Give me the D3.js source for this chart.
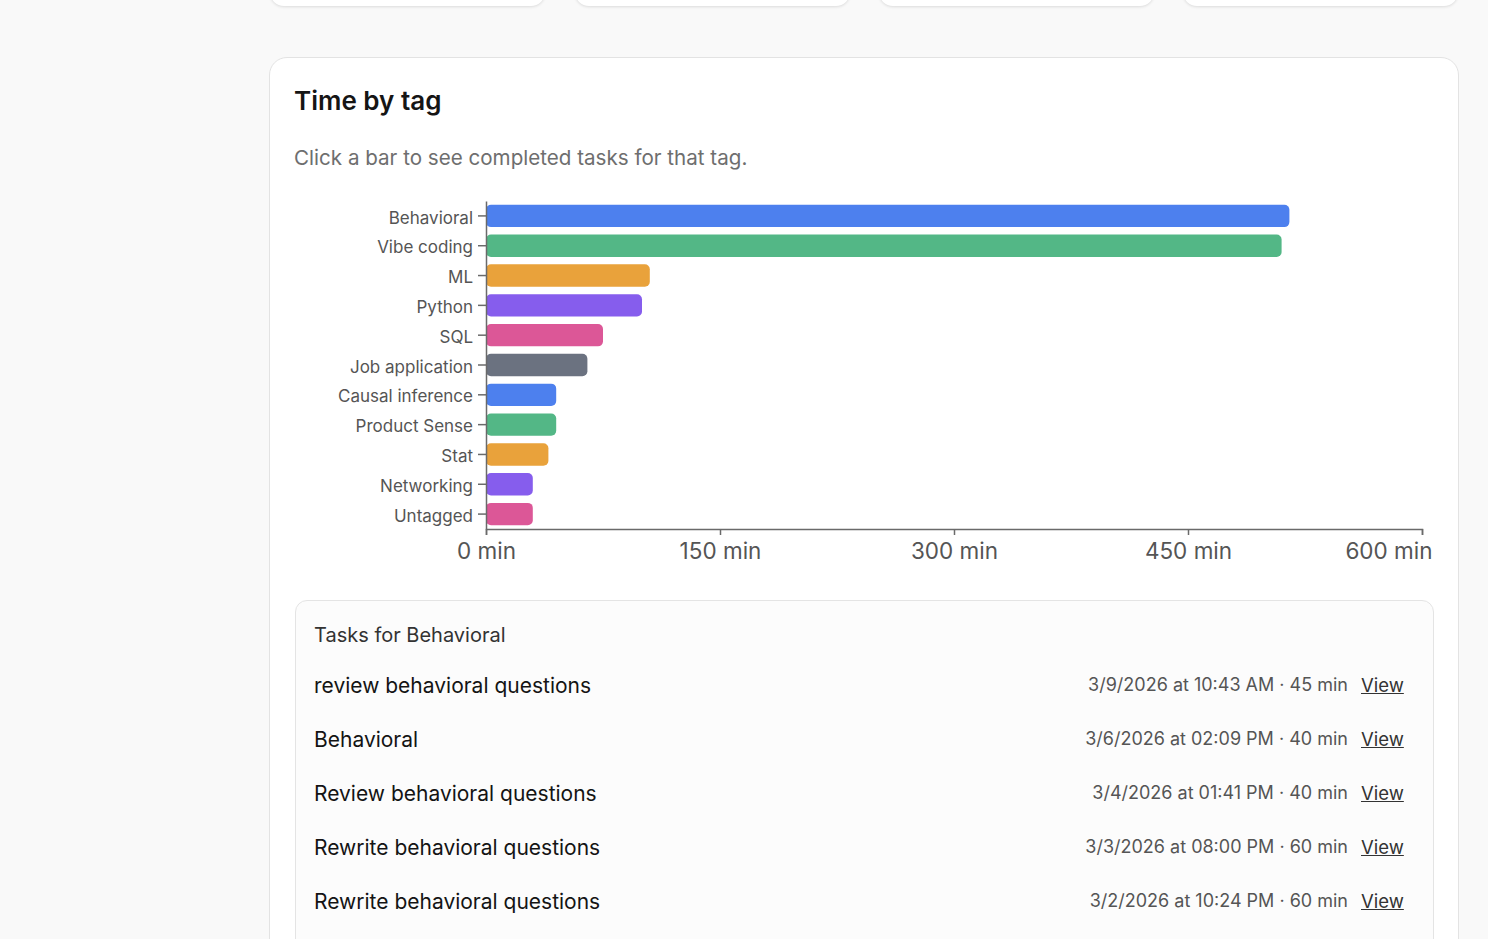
<!DOCTYPE html>
<html>
<head>
<meta charset="utf-8">
<script src="https://cdn.jsdelivr.net/npm/d3@7"></script>
<style>
  body { margin: 0; background: #f9f9f9; font-family: Inter, "Noto Sans", sans-serif; width: 1488px; height: 939px; overflow: hidden; position: relative; }
  .topcard { position: absolute; top: -40px; height: 46px; width: 275px; background: #fff; border-radius: 14px; box-shadow: 0 1px 3px rgba(0,0,0,0.12); }
  .card { position: absolute; left: 269px; top: 57px; width: 1190px; height: 920px; background: #fff; border: 1px solid #e3e3e3; border-radius: 18px; box-sizing: border-box; }
  .title { position: absolute; left: 294px; top: 85px; font-size: 26px; font-weight: 600; color: #151515; }
  .sub { position: absolute; left: 294px; top: 145px; font-size: 20.6px; color: #6e6e6e; }
  .panel { position: absolute; left: 295px; top: 600px; width: 1139px; height: 400px; background: #fcfcfc; border: 1px solid #e4e4e4; border-radius: 12px; box-sizing: border-box; }
  .panel-title { position: absolute; left: 314px; top: 623px; font-size: 20px; color: #333; }
  .row-name { position: absolute; left: 314px; font-size: 21px; color: #141414; }
  .row-meta { position: absolute; right: 140px; font-size: 18px; color: #555; }
  .row-view { position: absolute; left: 1361px; font-size: 18.5px; color: #333; text-decoration: underline; }
  svg { position: absolute; left: 0; top: 0; }
</style>
</head>
<body>
<div class="topcard" style="left:270px"></div>
<div class="topcard" style="left:575px"></div>
<div class="topcard" style="left:879px"></div>
<div class="topcard" style="left:1183px"></div>
<div class="card"></div>
<div class="title">Time by tag</div>
<div class="sub">Click a bar to see completed tasks for that tag.</div>
<div class="panel"></div>
<div class="panel-title">Tasks for Behavioral</div>
<div id="rows"></div>
<script>
// minutes per tag
const tags = ["Behavioral", "Vibe coding", "ML", "Python", "SQL", "Job application",
  "Causal inference", "Product Sense", "Stat", "Networking", "Untagged"]
const minutes = [515, 510, 105, 100, 75, 65, 45, 45, 40, 30, 30]
const colors = ["#4d80ee", "#53b786", "#e9a23b", "#865ded", "#dc5797", "#6b7280",
  "#4d80ee", "#53b786", "#e9a23b", "#865ded", "#dc5797"]
const xTicks = [0, 150, 300, 450, 600]

// tasks for Behavioral
const taskNames = ["review behavioral questions", "Behavioral", "Review behavioral questions",
  "Rewrite behavioral questions", "Rewrite behavioral questions"]
const taskDates = ["3/9/2026 at 10:43 AM", "3/6/2026 at 02:09 PM", "3/4/2026 at 01:41 PM",
  "3/3/2026 at 08:00 PM", "3/2/2026 at 10:24 PM"]
const taskMins = [45, 40, 40, 60, 60]

const data = tags.map((t, i) => ({ tag: t, min: minutes[i], color: colors[i] }))

const svg = d3.select("body").append("svg")
  .attr("width", 1488)
  .attr("height", 939)

const x = d3.scaleLinear()
  .domain([0, 600])
  .range([486, 1422])

const y = d3.scaleBand()
  .domain(tags)
  .range([201, 529])
  .paddingInner(0.25)
  .paddingOuter(0.125)

// bars
svg.selectAll("rect.bar")
  .data(data)
  .enter().append("rect")
    .attr("class", "bar")
    .attr("x", x(0))
    .attr("y", d => y(d.tag))
    .attr("width", d => x(d.min) - x(0))
    .attr("height", y.bandwidth())
    .attr("rx", 5)
    .attr("fill", d => d.color)

// y axis
const yAxis = svg.append("g")
  .attr("transform", `translate(${x(0)}, 0)`)
  .call(d3.axisLeft(y).tickSize(8).tickSizeOuter(0).tickPadding(5))
yAxis.select(".domain").attr("stroke", "#6a6a6a").attr("stroke-width", 1.5)
yAxis.selectAll(".tick line").attr("stroke", "#6a6a6a").attr("stroke-width", 1.5)
yAxis.selectAll("text")
  .attr("dy", "0.45em")
  .attr("font-family", "Inter, sans-serif")
  .attr("font-size", "17px")
  .attr("fill", "#555")

// x axis
const xAxis = svg.append("g")
  .attr("transform", "translate(0, 529)")
  .call(d3.axisBottom(x).tickValues(xTicks).tickSize(6).tickSizeOuter(6).tickPadding(8)
    .tickFormat(d => d + " min"))
xAxis.select(".domain").attr("stroke", "#6a6a6a").attr("stroke-width", 1.5)
xAxis.selectAll(".tick line").attr("stroke", "#6a6a6a").attr("stroke-width", 1.5)
xAxis.selectAll("text")
  .attr("font-family", "Inter, sans-serif")
  .attr("font-size", "22.5px")
  .attr("fill", "#555")
// last label is pulled in so it stays inside the card
xAxis.selectAll(".tick").filter(d => d === 600).select("text")
  .attr("text-anchor", "end")
  .attr("x", 10)

// task rows
const rows = d3.select("#rows")
taskNames.forEach((n, i) => {
  const top = 673 + i * 54
  rows.append("div").attr("class", "row-name").style("top", top + "px").text(n)
  rows.append("div").attr("class", "row-meta").style("top", (top + 1) + "px")
    .text(`${taskDates[i]} · ${taskMins[i]} min`)
  rows.append("div").attr("class", "row-view").style("top", (top + 1) + "px").text("View")
})
</script>
</body>
</html>
